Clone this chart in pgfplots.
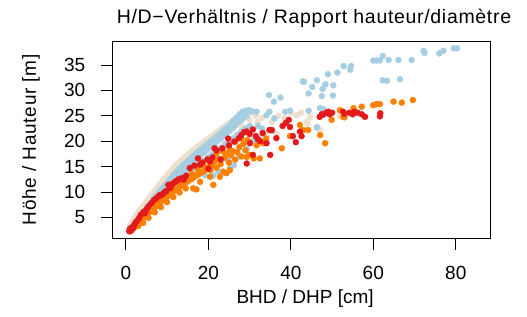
\documentclass[border=0pt]{standalone}
\usepackage{pgfplots}
\pgfplotsset{compat=1.18}
\usepackage{fontspec}
\setmainfont{Liberation Sans}
\newfontfamily\spacedfont[LetterSpace=4]{Liberation Sans}
\newfontfamily\titlefont[LetterSpace=3.5]{Liberation Sans}
\definecolor{cbeige}{RGB}{238,223,204}
\definecolor{cblue}{RGB}{166,206,227}
\definecolor{cred}{RGB}{227,26,28}
\definecolor{corange}{RGB}{255,127,0}
\begin{document}
\fontsize{19}{22.8}\selectfont
\begin{tikzpicture}
\useasboundingbox (0,0) rectangle (527pt,316pt);
\begin{axis}[
  at={(112.7pt,78pt)}, anchor=south west,
  scale only axis, width=377.3pt, height=196.3pt,
  xmin=-3.2, xmax=88.3, ymin=0.93, ymax=39.6,
  xtick={0,20,40,60,80}, ytick={5,10,15,20,25,30,35},
  xtick pos=bottom, ytick pos=left,
  tick align=outside, major tick length=12pt,
  tick style={black, line width=0.8pt},
  axis line style={line width=0.9pt},
  /pgf/number format/assume math mode=true,
  ticklabel style={font=\fontsize{19}{22.8}\selectfont},
  yticklabel style={xshift=-9pt},
  xticklabel style={yshift=-10pt},
  xlabel={BHD / DHP [cm]},
  ylabel={\spacedfont Höhe / Hauteur [m]},
  xlabel style={at={(axis description cs:0.51,-0.336)}, anchor=base, font=\fontsize{19}{22.8}\selectfont},
  ylabel style={at={(axis description cs:-0.2165,0.5)}, anchor=center, font=\fontsize{19}{22.8}\selectfont},
  clip=false,
]
\node[anchor=base, inner sep=0pt, font=\fontsize{19.5}{23}\titlefont] at (axis description cs:0.5335,1.0937) {H/D−Verhältnis / Rapport hauteur/diamètre};
% beige
\addplot[only marks, mark=*, mark size=3pt, color=cbeige] coordinates {
(0.8,2.9)(1.0,3.5)(1.4,4.0)(2.0,4.8)(2.5,5.4)(3.0,6.0)(3.5,6.6)(4.0,7.1)(4.5,7.6)(5.0,8.1)
(5.5,8.7)(6.0,9.2)(6.5,9.7)(7.0,10.2)(7.5,10.8)(8.0,11.4)(8.5,11.8)(9.0,12.3)(9.5,12.8)(10.0,13.3)
(10.5,13.7)(11.0,14.2)(11.5,14.7)(12.0,15.2)(12.5,15.5)(13.0,15.9)(13.5,16.3)(14.0,16.6)(14.5,17.0)(15.0,17.3)
(15.5,17.7)(16.0,18.0)(16.5,18.3)(17.0,18.6)(17.5,19.0)(18.0,19.3)(18.5,19.6)(19.0,19.9)(19.5,20.2)(20.0,20.5)
(20.5,20.8)(21.0,21.1)(21.5,21.4)(22.0,21.7)(22.5,22.0)(23.0,22.3)(23.5,22.6)(24.0,22.9)(24.5,23.2)(25.0,23.5)
(25.5,23.8)(26.0,24.1)(26.5,24.4)(27.0,24.6)(27.5,24.9)(28.0,25.1)(28.5,25.3)(29.0,25.4)
(1.5,3.6)(3.0,5.3)(4.5,6.9)(6.0,8.5)(7.5,10.1)(9.0,11.6)(10.5,13.0)(12.0,14.4)(13.5,15.6)(15.0,16.6)
(16.5,17.6)(18.0,18.6)(19.5,19.5)(21.0,20.4)(22.5,21.3)(24.0,22.2)(25.5,23.1)(27.0,23.9)
(22.0,20.5)(24.0,21.5)(26.0,22.5)(28.0,23.0)(30.0,24.2)(32.0,23.8)(30.5,25.6)(31.5,25.0)(33.0,24.6)
(35.4,23.8)(36.6,21.5)(38.5,24.5)(41.4,25.1)(44.7,24.8)(47.1,22.2)(22.0,17.0)(20.4,13.0)(27.0,19.5)(34.0,21.0)
(44.0,23.5)(40.0,25.5)(43.9,23.8)(51.9,24.9)(46.5,22.8)(37.0,25.0)(42.5,25.6)
};
% blue
\addplot[only marks, mark=*, mark size=3pt, color=cblue] coordinates {
(1.0,2.6)(1.7,3.4)(2.4,4.2)(3.1,4.9)(3.8,5.6)(4.5,6.3)(5.2,7.0)(5.9,7.7)(6.6,8.5)(7.3,9.2)
(8.0,9.9)(8.7,10.6)(9.4,11.3)(10.1,11.9)(10.8,12.6)(11.5,13.3)(12.2,13.9)(12.9,14.5)(13.6,15.1)(14.3,15.6)
(15.0,16.1)(15.7,16.6)(16.4,17.1)(17.1,17.6)(17.8,18.1)(18.5,18.6)(19.2,19.1)(19.9,19.5)(20.6,20.0)(21.3,20.4)
(22.0,20.9)(22.7,21.4)(23.4,21.9)(24.1,22.4)(24.8,22.9)(25.5,23.5)(26.2,24.1)(26.9,24.7)(27.6,25.3)(28.3,25.8)
(29.0,26.0)(29.8,26.1)(30.6,25.9)
(1.3,2.5)(2.0,3.2)(2.7,3.9)(3.4,4.6)(4.1,5.3)(4.8,6.0)(5.5,6.6)(6.2,7.3)(6.9,8.0)(7.6,8.7)
(8.3,9.4)(9.0,10.1)(9.7,10.7)(10.4,11.3)(11.1,11.9)(11.8,12.6)(12.5,13.1)(13.2,13.7)(13.9,14.3)(14.6,14.8)
(15.3,15.2)(16.0,15.7)(16.7,16.3)(17.4,16.7)(18.1,17.3)(18.8,17.7)(19.5,18.2)(20.2,18.7)(20.9,19.1)(21.6,19.5)
(22.3,20.1)(23.0,20.5)(23.7,21.0)(24.4,21.5)(25.1,22.0)(25.8,22.6)(26.5,23.1)(27.2,23.7)(27.9,24.1)(28.6,24.6)(29.3,25.0)
(3.0,4.4)(4.0,5.2)(5.0,6.0)(6.0,6.8)(7.0,7.6)(8.0,8.4)(9.0,9.1)(10.0,9.9)(11.0,10.7)(12.0,11.5)
(13.0,12.2)(14.0,13.0)(15.0,13.7)(16.0,14.4)(17.0,14.9)(18.0,15.6)(19.0,16.2)(20.0,16.9)(21.0,17.5)(22.0,18.1)
(23.0,18.7)(24.0,19.4)(25.0,20.0)(26.0,20.6)(27.0,21.3)(28.0,21.9)(29.0,22.5)(30.0,23.0)
(21.2,13.2)(22.4,14.0)(23.8,13.8)(25.3,14.6)(26.2,15.3)(19.2,13.3)(24.7,16.2)(27.5,17.0)(29.3,18.5)(31.0,20.2)
(33.0,21.5)(35.5,22.0)(25.3,14.8)
(32,23)(33,22.5)(34.1,25.1)(34.8,25.8)(34.7,29.1)(35.9,27.8)(37.5,28.6)(38.6,25.8)(39.8,26.0)
(44.3,26.0)(46.3,22.7)(47.1,26.5)(47.9,26.3)(45.2,30.7)(44.3,29.4)(47.5,28.9)(47.7,30.3)(48.4,31.2)(50.3,31.0)
(50.2,29.0)(42.9,31.8)(46.3,32.0)(49.0,33.2)(51.3,33.5)(52.8,34.8)(54.6,34.8)(54.4,34.1)(60.0,35.9)(60.8,35.9)
(61.6,35.9)(62.3,36.8)(63.7,36.0)(66.1,36.0)(69.3,36.0)(72.2,37.8)(72.4,37.4)(76.0,37.3)(77.0,37.8)(79.5,38.3)
(80.3,38.3)(62.3,32.0)(63.3,31.9)(66.5,32.2)(36,24.5)(43.2,31.7)(31.7,25.8)(28.5,25.6)
};
% orange
\addplot[only marks, mark=*, mark size=3pt, color=corange] coordinates {
(1.0,2.2)(1.3,2.4)(1.6,2.7)(2.0,3.0)(2.4,3.3)(2.8,3.6)(3.2,3.9)(3.6,4.3)(4.0,4.6)(4.5,5.0)
(5.0,5.4)(5.5,5.8)(6.0,6.2)(6.5,6.6)(7.0,7.0)(7.5,7.3)(8.0,7.7)(8.5,8.1)(9.0,8.4)(9.5,8.8)
(10.0,9.1)(10.5,9.4)(11.0,9.8)(11.5,10.1)(12.0,10.4)(12.5,10.7)(13.0,11.0)(13.5,11.3)(14.0,11.6)(14.5,11.8)
(15.0,12.1)(15.5,12.4)(16.0,12.6)(16.5,12.9)(17.0,13.2)(17.5,13.4)(18.0,13.7)(18.5,13.9)(19.0,14.2)(19.5,14.4)(20.0,14.7)
(3.0,3.3)(4.2,3.9)(5.5,4.9)(7.0,6.0)(8.5,7.0)(10.0,8.0)(11.5,9.0)(13.0,9.9)(14.5,10.7)(16.3,10.7)(17.1,10.5)(18.0,12.0)(20.4,13.0)
(2.5,4.0)(4.0,5.3)(5.5,6.6)(7.0,7.9)(8.5,8.9)(10.0,9.9)(11.5,10.9)(13.0,11.9)(14.5,12.8)(16.0,13.6)(17.5,14.4)(19.0,15.0)(20.5,15.6)
(20.5,14.3)(21.0,15.2)(21.5,16.0)(22.0,14.8)(22.5,16.5)(23.0,15.5)(23.6,14.0)(24.0,16.8)(24.4,17.5)(25.0,15.8)
(25.2,14.3)(25.5,17.2)(26.0,18.0)(26.5,16.4)(27.0,17.8)(27.5,18.8)(28.0,17.0)(28.5,19.5)(29.0,18.2)(30.0,17.3)
(31.0,16.6)(31.7,19.2)(32.5,16.6)(33.3,19.6)(34.0,20.5)(22.0,17.6)(23.5,18.0)(25.0,19.0)(26.5,20.0)(28.0,20.6)(29.5,20.2)
(21.2,11.4)(22.8,13.0)(24.4,13.7)
(25.2,18.3)(29.3,16.9)(37.8,18.6)(39.8,21.0)(42.2,23.2)(43.0,22.2)(44.2,22.2)(47.1,21.2)(48.3,19.6)(49.9,24.2)
(51.9,26.1)(52.7,24.8)(53.0,24.7)(55.2,26.5)(57.2,26.8)(60.0,27.1)(60.8,27.3)(61.6,27.3)(64.9,27.8)(66.9,27.6)(69.6,28.1)
};
% red
\addplot[only marks, mark=*, mark size=3pt, color=cred] coordinates {
(0.8,2.3)(1.0,2.7)(1.2,2.4)(1.4,3.0)(1.7,2.8)(2.0,3.4)(2.3,3.9)(2.7,4.3)(3.2,4.8)(3.6,5.5)
(4.2,6.0)(4.6,5.8)(5.0,6.6)(5.5,7.2)(6.2,7.8)(6.8,8.4)(7.4,8.8)(8.0,9.2)(8.3,9.4)(8.8,9.5)
(9.3,9.9)(9.8,10.2)(10.3,11.4)(10.8,10.8)(11.3,11.6)(11.8,11.9)(12.3,12.2)(12.8,12.5)(13.5,12.7)(14.0,12.4)
(14.6,13.2)(15.5,14.7)(16.6,15.2)(17.5,16.6)(18.0,15.4)(18.6,15.8)(19.8,16.4)(20.0,14.6)(20.4,16.0)
(21.0,16.8)(21.5,18.6)(22.0,18.2)(23.0,16.4)(23.4,18.6)(24.8,20.5)(25.0,19.2)(26.3,19.9)(27.4,20.6)
(28.0,21.2)(28.7,21.8)(29.3,21.9)(30.0,21.4)(30.8,22.3)(31.5,21.0)(32.0,20.4)(32.6,20.0)(33.2,21.6)(34.1,19.6)
(35.0,17.3)(29.3,15.6)(30.8,17.3)(35.4,22.2)(36.5,20.6)(38.0,23.0)(38.8,23.6)(39.5,24.2)(39.8,22.8)(40.5,21.0)
(41.2,19.8)(42.2,21.9)(42.6,21.0)(30.1,19.6)(34.8,22.2)
(47.0,24.8)(47.5,25.3)(47.8,25.2)(48.6,25.6)(49.1,25.8)(49.4,25.3)(50.0,25.6)(52.7,25.8)(53.0,25.4)(54.2,25.6)
(55.0,25.3)(55.4,25.8)(56.2,25.6)(57.2,25.3)(58.0,24.8)(61.7,25.5)(61.6,24.9)
};
\end{axis}
\end{tikzpicture}
\end{document}
